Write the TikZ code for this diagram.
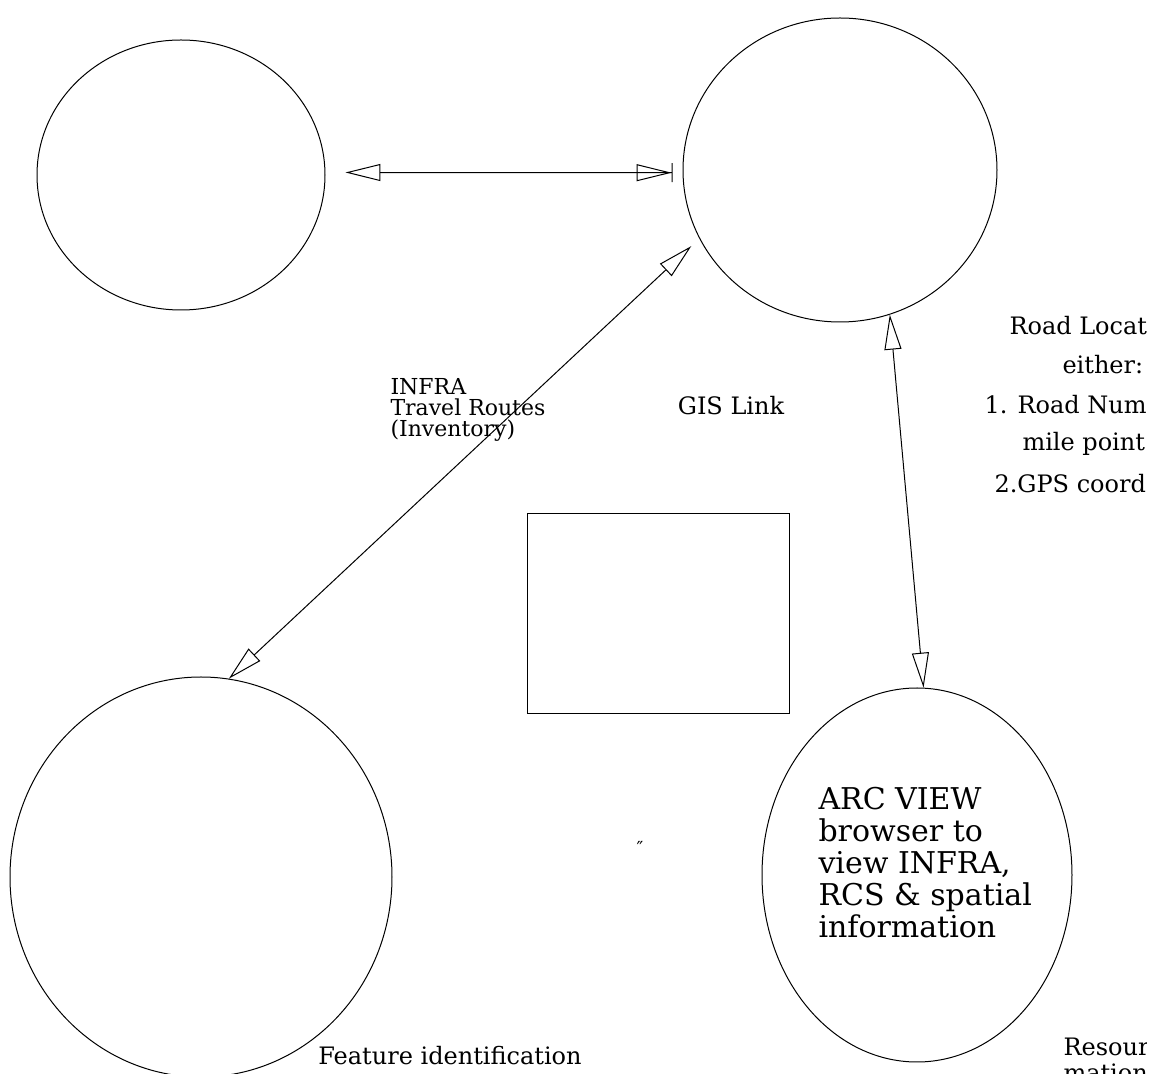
\documentclass[tikz,border=0pt]{standalone}
\usepackage{fontspec}
\setmainfont{DejaVu Serif}
\usetikzlibrary{positioning,arrows.meta,shapes.geometric}

\begin{document}
\begin{tikzpicture}[x=0.5pt, y=-0.5pt, line width=0.5pt,
    proc/.style={ellipse, draw=black, inner sep=0pt},
    box/.style={rectangle, draw=black, inner sep=0pt},
    note/.style={font=\fontsize{12}{13.5}\selectfont, inner sep=0pt},
    small/.style={font=\fontsize{11}{10.5}\selectfont, inner sep=0pt},
    big/.style={font=\fontsize{15}{16}\selectfont, inner sep=0pt},
    link/.style={{Triangle[open,length=17.5pt,width=8.5pt]}-{Triangle[open,length=17.5pt,width=8.5pt]}}]

    \useasboundingbox (0,0) rectangle (1153,1074);

    % Define process nodes
    \node[proc, minimum width=144pt, minimum height=135pt] (Infra) at (181,175) {};
    \node[proc, minimum width=157pt, minimum height=152pt] (GIS) at (840,170) {};
    \node[proc, minimum width=191pt, minimum height=200pt] (Feature) at (201,877) {};
    \node[proc, minimum width=155pt, minimum height=187pt] (ArcView) at (917,875) {};
    \node[box, minimum width=131pt, minimum height=100pt] (Link) at (658,614) {};

    % Define labels (base = last line)
    \node[small, align=left, anchor=base west] (Routes) at (390,437) {INFRA\\Travel Routes\\(Inventory)};
    \node[note] (GISLink) at (731,406) {GIS Link};
    \node[note, anchor=base] (Ident) at (450,1065) {Feature identification};
    \node[big, align=left, anchor=base west] (Browser) at (818,938)
        {ARC VIEW\\browser to\\view INFRA,\\RCS \& spatial\\information};
    \node[font=\fontsize{9}{9}\selectfont, inner sep=0pt] (Mark) at (640,848) {″};

    % Labels cut at the right edge
    \begin{scope}
        \clip (0,0) rectangle (1146,1074);
        \node[note, anchor=base west] (Loc1) at (1009,335) {Road Locat};
        \node[note, anchor=base west] (Loc2) at (1062,374) {either:};
        \node[note, anchor=base west] (Loc3) at (984,414) {1. Road Num};
        \node[note, anchor=base west] (Loc4) at (1022,451) {mile point};
        \node[note, anchor=base west] (Loc5) at (994,493) {2.GPS coord};
        \node[note, anchor=base west] (Res1) at (1063,1056) {Resour};
        \node[note, anchor=base west] (Res2) at (1063,1082) {mation};
    \end{scope}

    % Links between nodes
    \draw[{Triangle[open,length=17.5pt,width=8.5pt]}-{Triangle[open,length=17.5pt,width=8.5pt]Bar[width=9.5pt]},
        shorten <=10pt, shorten >=5pt] (Infra.1) -- (GIS.181.4);
    \draw[link, shorten >=5.5pt] (Feature.82.2) -- (GIS.206.7);
    \draw[link] (GIS.289.4) -- (ArcView.88.8);
\end{tikzpicture}
\end{document}
